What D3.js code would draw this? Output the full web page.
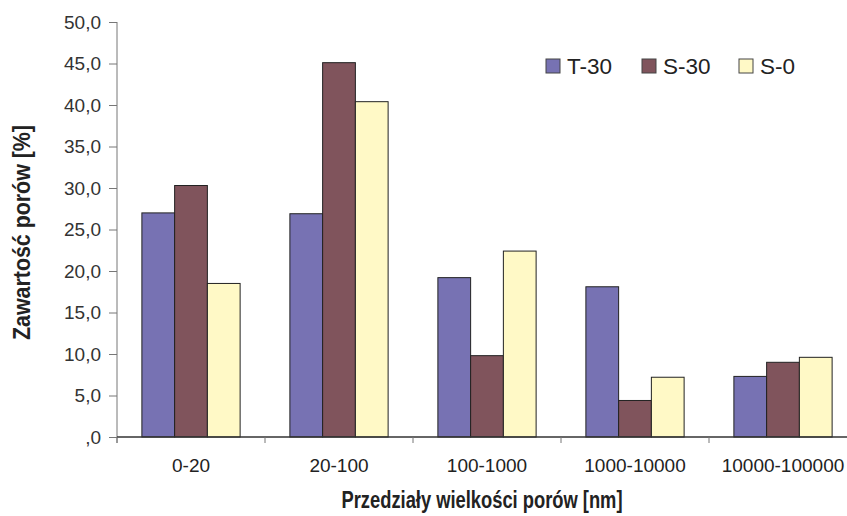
<!DOCTYPE html>
<html>
<head>
<meta charset="utf-8">
<script src="https://cdn.jsdelivr.net/npm/d3@7"></script>
<style>
  body { margin: 0; background: #fff; }
  svg { display: block; font-family: Arial, "Liberation Sans", sans-serif; }
</style>
</head>
<body>
<div id="chart"></div>
<script>
// categories and series values (pore content in %)
var categories = ["0-20", "20-100", "100-1000", "1000-10000", "10000-100000"];
var seriesNames = ["T-30", "S-30", "S-0"];
var t30 = [27.0, 26.9, 19.2, 18.1, 7.3];
var s30 = [30.3, 45.1, 9.8, 4.4, 9.0];
var s0 = [18.5, 40.4, 22.4, 7.2, 9.6];
var yTicks = [0, 5, 10, 15, 20, 25, 30, 35, 40, 45, 50];
var yTickLabels = [",0", "5,0", "10,0", "15,0", "20,0", "25,0", "30,0", "35,0", "40,0", "45,0", "50,0"];
var colors = ["#7772b3", "#80545c", "#fff9c6"];

var seriesValues = [t30, s30, s0];
var data = categories.map(function (c, i) {
  return { cat: c, vals: seriesNames.map(function (s, j) { return { name: s, v: seriesValues[j][i] }; }) };
});

var W = 847, H = 516;
var margin = { top: 22, right: -10, bottom: 79, left: 117 };
var width = W - margin.left - margin.right,
    height = H - margin.top - margin.bottom;

var svg = d3.select("#chart").append("svg")
  .attr("width", W).attr("height", H)
  .append("g")
  .attr("transform", "translate(" + margin.left + "," + margin.top + ")");

var x0 = d3.scaleBand().domain(categories).range([0, width]).padding(0);
var x1 = d3.scaleBand().domain(seriesNames).range([0, x0.bandwidth()]).paddingInner(0).paddingOuter(0.76);
var y = d3.scaleLinear().domain([0, 50]).range([height, 0]);
var color = d3.scaleOrdinal().domain(seriesNames).range(colors);

// bars
svg.append("g").selectAll("g")
  .data(data).enter().append("g")
  .attr("transform", function (d) { return "translate(" + x0(d.cat) + ",0)"; })
  .selectAll("rect")
  .data(function (d) { return d.vals; }).enter().append("rect")
  .attr("x", function (d) { return x1(d.name); })
  .attr("y", function (d) { return y(d.v); })
  .attr("width", x1.bandwidth())
  .attr("height", function (d) { return height - y(d.v); })
  .style("fill", function (d) { return color(d.name); })
  .style("stroke", "#222")
  .style("stroke-width", 1);

// y axis
var yAxis = svg.append("g")
  .call(d3.axisLeft(y).tickValues(yTicks).tickSize(8).tickPadding(8)
    .tickFormat(function (d, i) { return yTickLabels[i]; }));
yAxis.select(".domain").attr("stroke", "#777").attr("d", "M0,0V" + (height + 6));
yAxis.selectAll(".tick line").attr("stroke", "#777");
yAxis.selectAll(".tick text").attr("fill", "#333").style("font-size", "19px");

// x axis: ticks at category boundaries
var xAxis = svg.append("g").attr("transform", "translate(0," + height + ")");
xAxis.append("line").attr("x1", 0).attr("x2", width).attr("y1", 0).attr("y2", 0)
  .attr("stroke", "#333").attr("stroke-width", 1.5);
xAxis.selectAll(".bt").data(categories).enter().append("line")
  .attr("x1", function (d) { return x0(d); }).attr("x2", function (d) { return x0(d); })
  .attr("y1", 0).attr("y2", 6).attr("stroke", "#777");
xAxis.selectAll(".lbl").data(categories).enter().append("text")
  .attr("x", function (d) { return x0(d) + x0.bandwidth() / 2; })
  .attr("y", 35)
  .attr("text-anchor", "middle")
  .attr("fill", "#222")
  .style("font-size", "19px")
  .text(function (d) { return d; });

// axis titles
svg.append("text")
  .attr("x", 482 - margin.left)
  .attr("y", height + 71)
  .attr("text-anchor", "middle")
  .attr("textLength", 281).attr("lengthAdjust", "spacingAndGlyphs")
  .style("font-size", "23px").style("font-weight", "bold").attr("fill", "#222")
  .text("Przedziały wielkości porów [nm]");

svg.append("text")
  .attr("transform", "rotate(-90)")
  .attr("x", -height / 2 - 3)
  .attr("y", 30 - margin.left)
  .attr("text-anchor", "middle")
  .attr("textLength", 215).attr("lengthAdjust", "spacingAndGlyphs")
  .style("font-size", "23px").style("font-weight", "bold").attr("fill", "#222")
  .text("Zawartość porów [%]");

// legend
var legendX = [546, 642, 739];
var legend = d3.select("svg").append("g").selectAll("g")
  .data(seriesNames).enter().append("g")
  .attr("transform", function (d, i) { return "translate(" + legendX[i] + ",59)"; });
legend.append("rect").attr("width", 14).attr("height", 14)
  .style("fill", function (d) { return color(d); }).style("stroke", "#444");
legend.append("text").attr("x", 21).attr("y", 15)
  .style("font-size", "22.5px").attr("fill", "#222")
  .text(function (d) { return d; });
</script>
</body>
</html>
